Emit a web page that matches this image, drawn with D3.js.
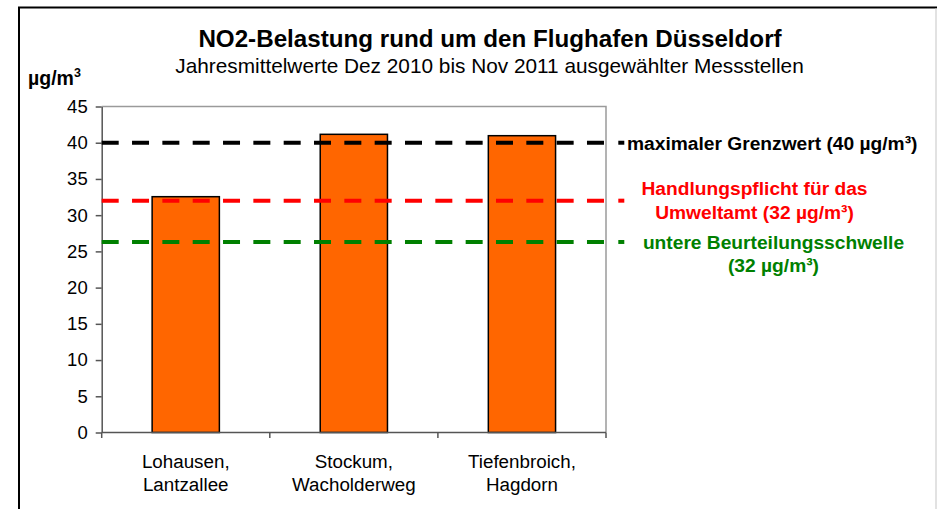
<!DOCTYPE html>
<html>
<head>
<meta charset="utf-8">
<script src="https://cdn.jsdelivr.net/npm/d3@7"></script>
<style>
  html, body { margin: 0; padding: 0; background: #fff; }
  svg { display: block; font-family: "Liberation Sans", Arial, sans-serif; }
</style>
</head>
<body>
<svg id="chart" width="937" height="509"></svg>
<script>
// ---- data ----
const categories = ["Lohausen,\nLantzallee", "Stockum,\nWacholderweg", "Tiefenbroich,\nHagdorn"];
const values = [32.55, 41.16, 40.97];
const yTicks = [0, 5, 10, 15, 20, 25, 30, 35, 40, 45];
const limitValues = [40, 32, 26.3];
const limitLabels = [
  ["maximaler Grenzwert (40 µg/m³)"],
  ["Handlungspflicht für das", "Umweltamt (32 µg/m³)"],
  ["untere Beurteilungsschwelle", "(32 µg/m³)"]
];
const titleText = "NO2-Belastung rund um den Flughafen Düsseldorf";
const subtitleText = "Jahresmittelwerte Dez 2010 bis Nov 2011 ausgewählter Messstellen";

// ---- styles / layout ----
const limitColors = ["#000000", "#ff0000", "#008000"];
const legendLayout = [
  { anchor: "start", x: 627, baselines: [150] },
  { anchor: "middle", x: 754.5, baselines: [195, 219] },
  { anchor: "middle", x: 773.5, baselines: [248.5, 271.5] }
];

const svg = d3.select("#chart");
const plot = { left: 101.7, right: 606, top: 106.5, bottom: 432.5 };

const x = d3.scaleBand().domain(categories).range([plot.left, plot.right]).padding(0);
const y = d3.scaleLinear().domain([0, 45]).range([plot.bottom, plot.top]);

// outer frame
svg.append("path")
  .attr("d", `M19,509 L19,7.5 L937,7.5`)
  .attr("fill", "none").attr("stroke", "#000").attr("stroke-width", 2);
svg.append("line")
  .attr("x1", 936).attr("x2", 936).attr("y1", 8.5).attr("y2", 509)
  .attr("stroke", "#d8d8d8").attr("stroke-width", 1.5);

// title
svg.append("text")
  .attr("x", 490).attr("y", 46.7)
  .attr("text-anchor", "middle")
  .attr("font-size", 24.2).attr("font-weight", "bold")
  .text(titleText);
svg.append("text")
  .attr("x", 489.5).attr("y", 73.3)
  .attr("text-anchor", "middle")
  .attr("font-size", 20.8)
  .text(subtitleText);

// y unit label
const unit = svg.append("text")
  .attr("x", 28).attr("y", 85)
  .attr("font-size", 19.5).attr("font-weight", "bold");
unit.append("tspan").text("µg/m");
unit.append("tspan").attr("font-size", 12.5).attr("dy", -7.7).text("3");

// plot frame (top & right, light grey)
svg.append("path")
  .attr("d", `M${plot.left},${plot.top} H${plot.right} V${plot.bottom}`)
  .attr("fill", "none").attr("stroke", "#9a9a9a").attr("stroke-width", 1.5);

// bars
const bw = x.bandwidth() * 0.4;
svg.append("g").selectAll("rect")
  .data(values)
  .join("rect")
  .attr("x", (d, i) => x(categories[i]) + (x.bandwidth() - bw) / 2)
  .attr("y", d => y(d))
  .attr("width", bw)
  .attr("height", d => y(0) - y(d))
  .attr("fill", "#ff6600")
  .attr("stroke", "#000").attr("stroke-width", 1.5);

// y axis
const yAxis = svg.append("g")
  .attr("transform", `translate(${plot.left},0)`)
  .call(d3.axisLeft(y).tickValues(yTicks).tickSize(6).tickSizeOuter(0).tickPadding(8));
yAxis.select(".domain").attr("stroke", "#555").attr("stroke-width", 1.5);
yAxis.selectAll(".tick line").attr("stroke", "#555").attr("stroke-width", 1.5);
yAxis.selectAll(".tick text")
  .attr("font-size", 18.5).attr("font-family", "Liberation Sans, Arial, sans-serif")
  .attr("fill", "#000");

// x axis
const xAxis = svg.append("g").attr("transform", `translate(0,${plot.bottom})`);
xAxis.append("line")
  .attr("x1", plot.left).attr("x2", plot.right)
  .attr("stroke", "#555").attr("stroke-width", 1.5);
const boundaries = categories.map(c => x(c)).concat([x.range()[1]]);
xAxis.selectAll("line.tick")
  .data(boundaries)
  .join("line").attr("class", "tick")
  .attr("x1", d => d).attr("x2", d => d)
  .attr("y1", 0).attr("y2", 5.5)
  .attr("stroke", "#555").attr("stroke-width", 1.5);
const xl = xAxis.selectAll("text")
  .data(categories)
  .join("text")
  .attr("text-anchor", "middle")
  .attr("font-size", 18.8)
  .attr("fill", "#000");
xl.each(function (c) {
  const lines = c.split("\n");
  const t = d3.select(this);
  lines.forEach((ln, k) => {
    t.append("tspan")
      .attr("x", x(c) + x.bandwidth() / 2)
      .attr("y", 35.2 + k * 23.3)
      .text(ln);
  });
});

// limit lines
svg.append("g").selectAll("line")
  .data(limitValues)
  .join("line")
  .attr("x1", plot.left).attr("x2", 605)
  .attr("y1", d => y(d)).attr("y2", d => y(d))
  .attr("stroke", (d, i) => limitColors[i])
  .attr("stroke-width", 4)
  .attr("stroke-dasharray", "17,13.33");

// legend keys (small dashes)
svg.append("g").selectAll("line")
  .data(limitValues)
  .join("line")
  .attr("x1", 618.3).attr("x2", 624.3)
  .attr("y1", d => y(d)).attr("y2", d => y(d))
  .attr("stroke", (d, i) => limitColors[i])
  .attr("stroke-width", 4);

// legend labels
limitLabels.forEach((lines, i) => {
  const L = legendLayout[i];
  const t = svg.append("text")
    .attr("text-anchor", L.anchor)
    .attr("font-size", 19.2).attr("font-weight", "bold")
    .attr("fill", limitColors[i]);
  lines.forEach((ln, k) => {
    t.append("tspan").attr("x", L.x).attr("y", L.baselines[k]).text(ln);
  });
});
</script>
</body>
</html>
